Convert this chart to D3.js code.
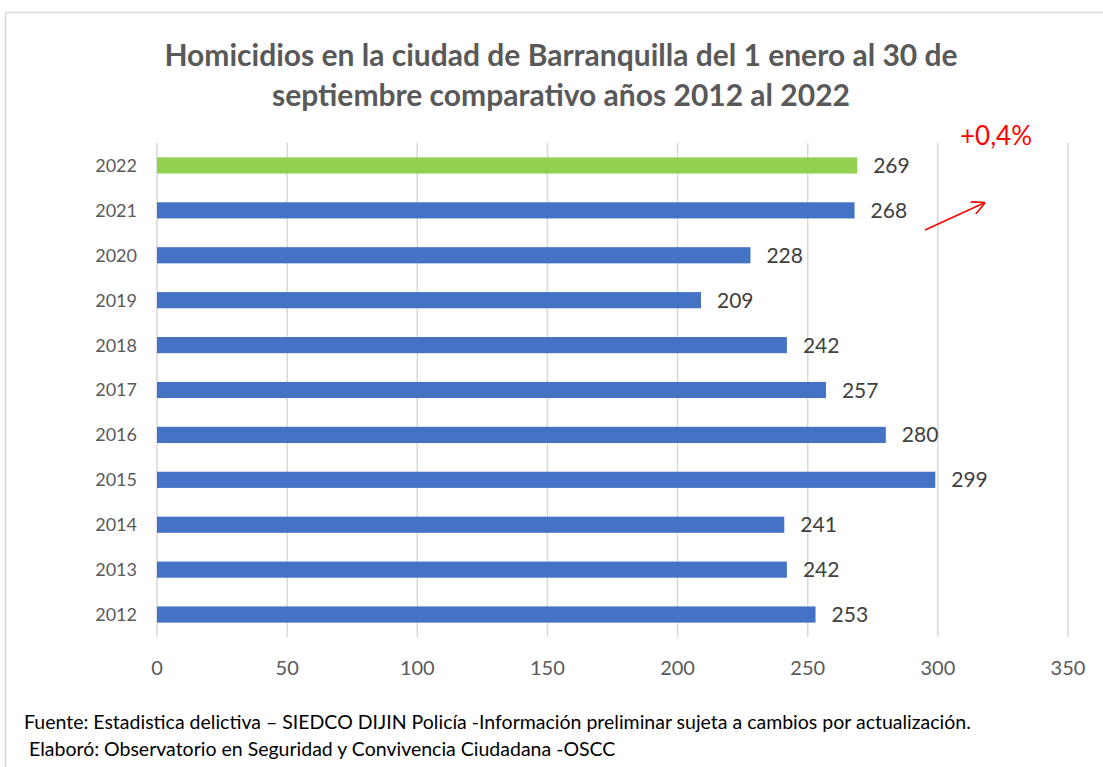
<!DOCTYPE html>
<html>
<head>
<meta charset="utf-8">
<script src="https://cdn.jsdelivr.net/npm/d3@7"></script>
<style>
  body { margin: 0; background: #fff; }
  text { font-family: Lato, "Open Sans", sans-serif; }
</style>
</head>
<body>
<svg width="1103" height="767"></svg>
<script>
var years = ["2022", "2021", "2020", "2019", "2018", "2017", "2016", "2015", "2014", "2013", "2012"];
var homicidios = [269, 268, 228, 209, 242, 257, 280, 299, 241, 242, 253];
var xTicks = [0, 50, 100, 150, 200, 250, 300, 350];
var titleLines = ["Homicidios en la ciudad de Barranquilla del 1 enero al 30 de",
                  "septiembre comparativo años 2012 al 2022"];
var footLines = ["Fuente: Estadistica delictiva \u2013 SIEDCO DIJIN Policía -Información preliminar sujeta a cambios por actualización.",
                 " Elaboró: Observatorio en Seguridad y Convivencia Ciudadana -OSCC"];
var cambio = "+0,4%";

var svg = d3.select("svg");

// chart frame
svg.append("rect")
   .attr("x", 5.5).attr("y", 12.5)
   .attr("width", 1110).attr("height", 770)
   .style("fill", "none").style("stroke", "#d9d9d9").style("stroke-width", 1.5);

var x = d3.scaleLinear().domain([0, 350]).range([157, 1068]);
var y = d3.scaleBand().domain(years).range([143, 637]).paddingInner(0.64).paddingOuter(0.32);

// gridlines
svg.selectAll(".grid").data(xTicks).enter()
   .append("line")
   .attr("x1", d => x(d)).attr("x2", d => x(d))
   .attr("y1", 143).attr("y2", 637)
   .style("stroke", "#d9d9d9").style("stroke-width", 1.5);

// bars
svg.selectAll(".bar").data(homicidios).enter()
   .append("rect")
   .attr("x", x(0))
   .attr("y", (d, i) => y(years[i]))
   .attr("width", d => x(d) - x(0))
   .attr("height", y.bandwidth())
   .style("fill", (d, i) => years[i] === "2022" ? "#92D050" : "#4472C4");

// value labels
svg.selectAll(".val").data(homicidios).enter()
   .append("text")
   .attr("x", d => x(d) + 16)
   .attr("y", (d, i) => y(years[i]) + y.bandwidth() / 2)
   .attr("dy", "0.36em")
   .style("font-size", "21px").style("fill", "#404040")
   .text(d => d);

// y labels
svg.selectAll(".ylab").data(years).enter()
   .append("text")
   .attr("x", 137)
   .attr("y", d => y(d) + y.bandwidth() / 2)
   .attr("dy", "0.36em")
   .attr("text-anchor", "end")
   .style("font-size", "18px").style("fill", "#595959")
   .text(d => d);

// x tick labels
svg.selectAll(".xlab").data(xTicks).enter()
   .append("text")
   .attr("x", d => x(d))
   .attr("y", 668)
   .attr("dy", "0.36em")
   .attr("text-anchor", "middle")
   .style("font-size", "20px").style("fill", "#595959")
   .text(d => d);

// title
svg.selectAll(".title").data(titleLines).enter()
   .append("text")
   .attr("x", 561)
   .attr("y", (d, i) => 55 + i * 40)
   .attr("dy", "0.36em")
   .attr("text-anchor", "middle")
   .style("font-size", "30px").style("font-weight", "bold").style("fill", "#595959")
   .text(d => d);

// change annotation
svg.append("text")
   .attr("x", 996).attr("y", 136).attr("dy", "0.36em")
   .attr("text-anchor", "middle")
   .style("font-size", "26px").style("fill", "#ff0000")
   .text(cambio);

svg.append("defs").append("marker")
   .attr("id", "head").attr("viewBox", "0 0 10 10")
   .attr("refX", 9).attr("refY", 5)
   .attr("markerWidth", 9).attr("markerHeight", 9)
   .attr("orient", "auto")
   .append("path").attr("d", "M0,0 L10,5 L0,10")
   .style("fill", "none").style("stroke", "#ff0000").style("stroke-width", 1.2);

svg.append("line")
   .attr("x1", 925).attr("y1", 230).attr("x2", 984).attr("y2", 203)
   .style("stroke", "#ff0000").style("stroke-width", 1.5)
   .attr("marker-end", "url(#head)");

// footer
svg.selectAll(".foot").data(footLines).enter()
   .append("text")
   .attr("x", 24)
   .attr("y", (d, i) => 722 + i * 27)
   .attr("dy", "0.36em")
   .style("font-size", "19.5px").style("fill", "#000")
   .style("white-space", "pre")
   .attr("xml:space", "preserve")
   .text(d => d);
</script>
</body>
</html>
